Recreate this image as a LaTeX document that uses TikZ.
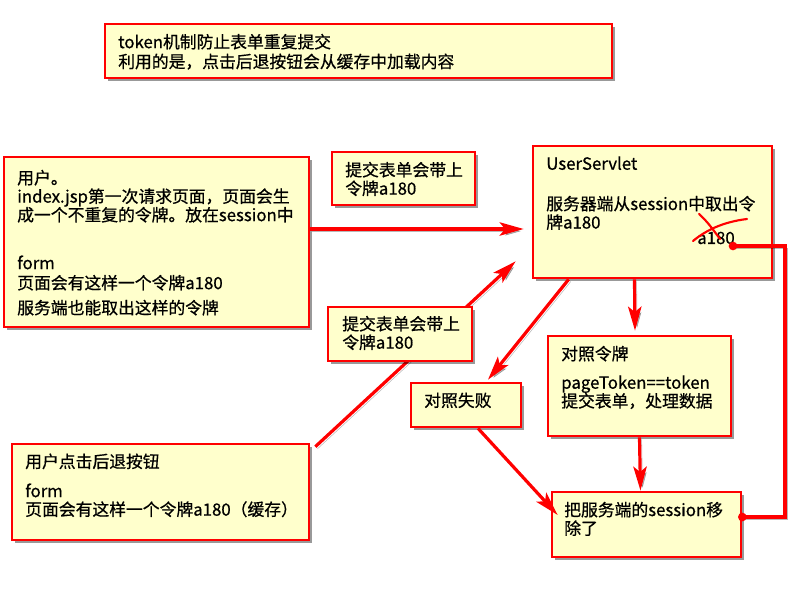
\documentclass[tikz,border=0pt]{standalone}
\usepackage{fontspec}
\setmainfont{Noto Sans CJK SC}[FakeBold=0.7]
\usetikzlibrary{arrows.meta,shadows,fit}
\definecolor{notefill}{HTML}{FFFFCC}
\definecolor{linered}{RGB}{255,0,0}
\begin{document}
\begin{tikzpicture}[x=0.75pt,y=-0.75pt,
  box/.style={draw=linered, line width=2pt, fill=notefill, rectangle, inner sep=0pt,
    drop shadow={shadow xshift=2.2pt, shadow yshift=-2.2pt, opacity=0.4, fill=black}},
  txt/.style={anchor=north west, inner sep=0pt, align=left,
    font=\fontsize{12.6}{13.9}\selectfont},
  lshadow/.style={preaction={draw=black, opacity=0.28, transform canvas={shift={(1.6pt,-1.6pt)}}}},
  arr/.style={draw=linered, line width=2.4pt, lshadow,
    -{Stealth[length=18pt,width=10pt,inset=4pt]}},
  link/.style={draw=linered, line width=2.4pt, lshadow},
  dot/.style={circle, fill=linered, inner sep=0pt, minimum size=6.5pt},
  cross/.style={draw=linered, line width=1.6pt, line cap=round}
]
\useasboundingbox (0,0) rectangle (800,600);

% boxes
\node[box, fit={(105,24) (612,78)}] (topnote) {};
\node[box, fit={(4,157) (309,327)}] (user) {};
\node[box, fit={(332,152) (475,205)}] (sub1) {};
\node[box, fit={(533,146) (772,278)}] (srv) {};
\node[box, fit={(411,383) (521,427)}] (fail) {};
\node[box, fit={(548,336) (731,436)}] (cmp) {};
\node[box, fit={(12,444) (309,540)}] (back) {};
\node[box, fit={(552,492) (741,557)}] (rm) {};

% connectors
\draw[arr] ([shift={(0,-13)}]user.east) -- ([shift={(-8,17)}]srv.west);
\draw[arr] ([shift={(5,4)}]back.north east) -- ([shift={(-16,-18)}]srv.south west);
\draw[arr] ([shift={(37,0)}]srv.south west) -- ([shift={(22,-2)}]fail.north);
\draw[arr] ([shift={(-18,0)}]srv.south) -- ([shift={(-4.5,-4)}]cmp.north);
\draw[arr] (cmp.south) -- ([shift={(-6,0)}]rm.north);
\draw[arr] ([shift={(12,0)}]fail.south) -- ([shift={(7,-9.5)}]rm.west);

% second "submit" note sits over the back-button connector
\node[box, fit={(328,307) (472,361)}] (sub2) {};

% texts
\node[txt] (topnotetext) at (118,33.6) {token机制防止表单重复提交\\[0.9pt]利用的是，点击后退按钮会从缓存中加载内容};
\node[txt] (usertext) at (17,169.6) {用户。\\index.jsp第一次请求页面，页面会生\\成一个不重复的令牌。放在session中\\[22.1pt]form\\[1.1pt]页面会有这样一个令牌a180\\[4.8pt]服务端也能取出这样的令牌};
\node[txt] (sub1text) at (345,161.6) {提交表单会带上\\令牌a180};
\node[txt] (srvtext) at (546,156.1) {UserServlet\\[16.3pt]服务器端从session中取出令\\牌a180};
\node[txt] (sub2text) at (342,315.6) {提交表单会带上\\令牌a180};
\node[txt] (failtext) at (424,392.3) {对照失败};
\node[txt] (cmptext) at (561,345.6) {对照令牌\\[7.6pt]pageToken==token\\提交表单，处理数据};
\node[txt] (rmtext) at (564,501.6) {把服务端的session移\\除了};
\node[txt] (backtext) at (25,453.3) {用户点击后退按钮\\[8.1pt]form\\页面会有这样一个令牌a180（缓存）};

% crossed-out token inside UserServlet
\node[inner sep=0pt, font=\fontsize{12.6}{13.9}\selectfont] (oldtoken) at (716,238) {a180};
\draw[cross] (699,214) .. controls (708,222) and (714,231) .. (720,239);
\draw[cross] (693,241) .. controls (705,231) and (722,222) .. (747,219);

% link from removed token to session removal
\coordinate (d1) at (733,246);
\coordinate (corner) at (785,246);
\coordinate (d2) at ([shift={(0,-7.5)}]rm.east);
\draw[link] (d1) -- (corner) |- (d2);
\node[dot] (dot1) at (d1) {};
\node[dot] (dot2) at (d2) {};
\end{tikzpicture}
\end{document}
